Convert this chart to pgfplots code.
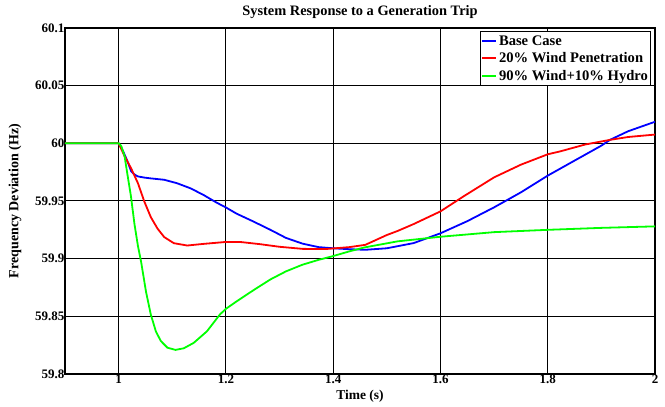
\documentclass[border=0pt]{standalone}
\usepackage{pgfplots}
\pgfplotsset{compat=1.18}
\usepackage{fontspec}
\setmainfont{Liberation Serif}
\begin{document}
\begin{tikzpicture}
\begin{axis}[
  scale only axis,
  width=590pt, height=346pt,
  xmin=0.9, xmax=2, ymin=59.8, ymax=60.1,
  xtick={1,1.2,1.4,1.6,1.8,2},
  ytick={59.8,59.85,59.9,59.95,60,60.05,60.1},
  yticklabels={59.8,59.85,59.9,59.95,60,60.05,60.1},
  xticklabels={1,1.2,1.4,1.6,1.8,2},
  grid=major,
  major grid style={black, line width=1pt},
  axis line style={black, line width=1.6pt},
  tick style={black, line width=1pt},
  tick align=inside,
  ticklabel style={font=\fontsize{13}{15}\selectfont\bfseries},
  xticklabel style={yshift=3pt},
  yticklabel style={xshift=3pt},
  xlabel={\fontsize{13.5}{15}\selectfont\bfseries Time (s)},
  xlabel style={at={(axis description cs:0.5,-0.0636)}, anchor=center},
  ylabel={\fontsize{14}{16}\selectfont\bfseries Frequency Deviation (Hz)},
  ylabel style={at={(axis description cs:-0.0847,0.5)}, anchor=center},
  legend style={at={(0.994,0.991)}, anchor=north east, draw=black, line width=1pt,
    font=\fontsize{14.6}{15.5}\selectfont\bfseries, inner xsep=1pt, inner ysep=2pt, row sep=1.8pt,
    cells={anchor=west}},
  legend image code/.code={\draw[#1, line width=1.8pt, mark=none] (0pt,0pt) -- (14pt,0pt);},
]
\addplot[blue, line width=1.8pt] coordinates {
(0.9,60) (1.0,60) (1.008,59.9935) (1.016,59.985) (1.0234,59.9757) (1.03,59.9728)
(1.036,59.9713) (1.048,59.9703) (1.06,59.9696) (1.085,59.9684) (1.109,59.9654)
(1.134,59.961) (1.158,59.9553) (1.183,59.9485) (1.2,59.9444) (1.22,59.939)
(1.25,59.9325) (1.283,59.925) (1.312,59.918) (1.343,59.913) (1.373,59.910)
(1.4,59.909) (1.43,59.9082) (1.46,59.9077) (1.5,59.909) (1.55,59.9135)
(1.6,59.922) (1.65,59.9325) (1.7,59.9445) (1.75,59.9575) (1.8,59.972)
(1.848,59.9845) (1.9,59.998) (1.916,60.003) (1.95,60.0105) (2.0,60.0187)
};
\addlegendentry{Base Case}
\addplot[red, line width=1.8pt] coordinates {
(0.9,60) (1.0,60) (1.011,59.9889) (1.023,59.9786) (1.036,59.9654) (1.048,59.9494)
(1.06,59.936) (1.0726,59.926) (1.085,59.9187) (1.103,59.9134) (1.128,59.9114)
(1.158,59.9128) (1.2,59.9145) (1.226,59.9145) (1.263,59.9126) (1.3,59.9103)
(1.343,59.9085) (1.385,59.9083) (1.43,59.910) (1.46,59.912) (1.5,59.9205)
(1.52,59.924) (1.55,59.930) (1.6,59.941) (1.643,59.954) (1.7,59.9705)
(1.75,59.9815) (1.8,59.9905) (1.823,59.993) (1.87,59.999) (1.916,60.003)
(1.95,60.0055) (2.0,60.0076)
};
\addlegendentry{20\% Wind Penetration}
\addplot[green, line width=1.8pt] coordinates {
(0.9,60) (1.0,60) (1.005,59.9976) (1.011,59.989) (1.017,59.9713) (1.023,59.954)
(1.0295,59.930) (1.036,59.911) (1.042,59.897) (1.051,59.8714) (1.06,59.8515)
(1.0694,59.837) (1.0786,59.8286) (1.091,59.8228) (1.106,59.8209) (1.1215,59.8223)
(1.14,59.827) (1.1646,59.837) (1.189,59.8517) (1.2,59.8565) (1.22,59.863)
(1.2525,59.873) (1.283,59.882) (1.312,59.889) (1.343,59.8948) (1.373,59.899)
(1.398,59.902) (1.43,59.9063) (1.458,59.9097) (1.52,59.915) (1.6,59.919)
(1.7,59.923) (1.8,59.925) (1.9,59.9267) (2.0,59.928)
};
\addlegendentry{90\% Wind+10\% Hydro}
\coordinate (ll) at (rel axis cs:0,0);
\coordinate (ur) at (rel axis cs:1,1);
\coordinate (tt) at (rel axis cs:0.5,1);
\end{axis}
\node[anchor=center, font=\fontsize{14.4}{16}\selectfont\bfseries] at ([yshift=15.5pt]tt) {System Response to a Generation Trip};
\pgfresetboundingbox
\path[use as bounding box] ([shift={(-65pt,-33pt)}]ll) rectangle ([shift={(10pt,28pt)}]ur);
\end{tikzpicture}
\end{document}
